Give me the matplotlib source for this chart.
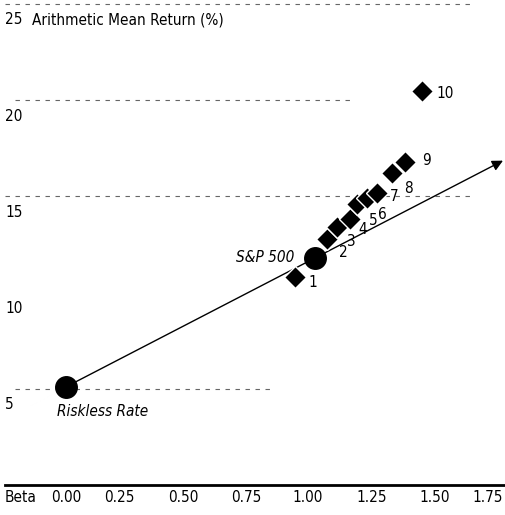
import matplotlib
matplotlib.use("Agg")
import matplotlib.pyplot as plt
from matplotlib import font_manager as fm

# ---- data ----
decile_labels = ["1", "2", "3", "4", "5", "6", "7", "8", "9", "10"]
decile_beta = [0.92, 1.05, 1.09, 1.14, 1.17, 1.21, 1.25, 1.31, 1.36, 1.43]
decile_return = [10.8, 12.8, 13.4, 13.8, 14.6, 14.9, 15.2, 16.2, 16.8, 20.5]
market_label = "S&P 500"
market_beta = 1.00
market_return = 11.8
riskless_label = "Riskless Rate"
riskless_beta = 0.0
riskless_return = 5.1
sml_end_beta = 1.755
x_ticks = [0.00, 0.25, 0.50, 0.75, 1.00, 1.25, 1.50, 1.75]
x_tick_labels = ["0.00", "0.25", "0.50", "0.75", "1.00", "1.25", "1.50", "1.75"]
y_ticks = [5, 10, 15, 20, 25]
y_tick_labels = ["5", "10", "15", "20", "25"]
y_title = "Arithmetic Mean Return (%)"
x_title = "Beta"

# choose a condensed font if one is installed
FONT = ["Liberation Sans", "DejaVu Sans"]
STRETCH = "normal"
FS = 11
try:
    f = fm.findfont(fm.FontProperties(family="Liberation Sans Narrow"), fallback_to_default=False)
    if "Narrow" in f:
        FONT = ["Liberation Sans Narrow", "DejaVu Sans"]
        FS = 12.5
except Exception:
    try:
        f = fm.findfont(fm.FontProperties(family="DejaVu Sans", stretch="condensed"),
                        fallback_to_default=False)
        if "Condensed" in f:
            FONT = ["DejaVu Sans", "Liberation Sans"]
            STRETCH = "condensed"
            FS = 11
    except Exception:
        pass

TXT = dict(fontsize=FS, family=FONT, fontstretch=STRETCH)

fig = plt.figure(figsize=(5.05, 5.15), dpi=100)
ax = fig.add_axes([0.0, 30 / 515, 1.0, 481 / 515])
ax.set_xlim(-66 / 249, (505 - 66) / 249)
ax.set_ylim(0, 25)
ax.axis("off")

# gridlines (dashed, partial as in the scan)
grid_extent = {5: (0.03, 0.54), 15: (0.01, 0.93), 20: (0.03, 0.70), 25: (0.01, 0.93)}
for yv, (x0, x1) in grid_extent.items():
    ax.axhline(yv, x0, x1, color="#666666", lw=0.8, ls=(0, (4, 5)), zorder=1, clip_on=False)

# baseline axis
ax.axhline(0, 0.01, 1.0, color="black", lw=2.0, zorder=2, clip_on=False)

# y tick labels (below their gridlines, left side)
for yv, lab in zip(y_ticks, y_tick_labels):
    ax.annotate(lab, xy=(5 / 505, yv), xycoords=("axes fraction", "data"),
                xytext=(0, -11.5), textcoords="offset points",
                ha="left", va="center", **TXT)
ax.annotate(y_title, xy=(32 / 505, y_ticks[-1]), xycoords=("axes fraction", "data"),
            xytext=(0, -11.5), textcoords="offset points",
            ha="left", va="center", **TXT)

# x tick labels (pixel nudges follow the scanned placement)
x_label_nudge = [0, -8.5, -7, -6, -7, -5.5, -5, -14]
for xv, lab, nd in zip(x_ticks, x_tick_labels, x_label_nudge):
    ax.annotate(lab, xy=(xv, 0), xycoords="data",
                xytext=(nd * 0.72, -9), textcoords="offset points",
                ha="center", va="center", annotation_clip=False, **TXT)
ax.annotate(x_title, xy=(5 / 505, 0), xycoords=("axes fraction", "data"),
            xytext=(0, -9), textcoords="offset points",
            ha="left", va="center", **TXT)

# security market line with arrow
slope = (market_return - riskless_return) / (market_beta - riskless_beta)
end_ret = riskless_return + slope * (sml_end_beta - riskless_beta)
ax.annotate("", xy=(sml_end_beta, end_ret), xytext=(riskless_beta, riskless_return),
            arrowprops=dict(arrowstyle="-|>", color="black", lw=1.0,
                            mutation_scale=16, shrinkA=0, shrinkB=0),
            zorder=3, annotation_clip=False)

# decile diamonds
ax.plot(decile_beta, decile_return, ls="none", marker="D", ms=11.5,
        mfc="black", mec="white", mew=1.0, zorder=4)

label_offsets = [(18, 5), (16, 14), (14, 14), (13, 10), (16, 16),
                 (15, 16), (17, 4), (16, 15), (22, -1), (23, 3)]
for b, r, lab, (dx, dy) in zip(decile_beta, decile_return, decile_labels, label_offsets):
    ax.annotate(lab, xy=(b, r), xytext=(dx * 0.72, -dy * 0.72), textcoords="offset points",
                ha="center", va="center", zorder=6, **TXT)

# market and riskless circles
ax.plot([market_beta, riskless_beta], [market_return, riskless_return], ls="none",
        marker="o", ms=15.5, mfc="black", mec="black", zorder=5)
ax.annotate(market_label, xy=(market_beta, market_return), xytext=(-15, 0.5),
            textcoords="offset points", ha="right", va="center",
            style="italic", **TXT)
ax.annotate(riskless_label, xy=(riskless_beta, riskless_return), xytext=(-6.5, -18),
            textcoords="offset points", ha="left", va="center",
            style="italic", **TXT)

fig.savefig("out.png", dpi=100)
